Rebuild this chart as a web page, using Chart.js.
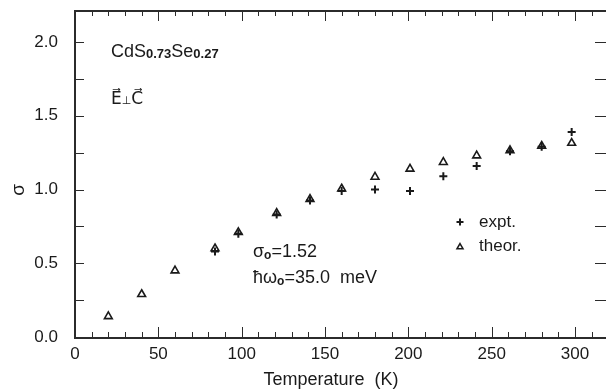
<!DOCTYPE html>
<html>
<head>
<meta charset="utf-8">
<script src="https://cdn.jsdelivr.net/npm/chart.js@4/dist/chart.umd.min.js"></script>
<style>
  html, body { margin: 0; padding: 0; background: #fff; }
  #wrap { width: 606px; height: 390px; position: relative; }
  canvas { display: block; }
</style>
</head>
<body>
<div id="wrap"><canvas id="c" width="606" height="390"></canvas></div>
<script>
// Measured conductivity ratio (expt.) and model curve (theor.) vs temperature
const exptT      = [84, 98, 121, 141, 160, 180, 201, 221, 241, 261, 280, 298];
const exptSigma  = [0.58, 0.70, 0.83, 0.925, 0.99, 1.00, 0.99, 1.09, 1.16, 1.26, 1.29, 1.39];
const theorT     = [20, 40, 60, 84, 98, 121, 141, 160, 180, 201, 221, 241, 261, 280, 298];
const theorSigma = [0.14, 0.29, 0.45, 0.60, 0.71, 0.84, 0.935, 1.005, 1.085, 1.14, 1.185, 1.23, 1.265, 1.295, 1.315];

// Axis ticks
const xTickLabels = [0, 50, 100, 150, 200, 250, 300];
const yTickLabels = [0.0, 0.5, 1.0, 1.5, 2.0];
const xMinorStep = 10;
const yMinorStep = 0.25;

const xTitle = 'Temperature  (K)';
const yTitle = 'σ';

const FONT = '"Liberation Sans", Arial, "DejaVu Sans", sans-serif';
const INK = '#1a1a1a';

const toPoints = (xs, ys) => xs.map((x, i) => ({ x: x, y: ys[i] }));

// Frame, inward ticks, annotations and key
const decor = {
  id: 'decor',
  afterDraw(chart) {
    const { ctx, chartArea: a, scales: { x, y } } = chart;
    ctx.save();
    ctx.fillStyle = '#2b2b2b';

    const L = Math.round(a.left), T = Math.round(a.top), B = Math.round(a.bottom), R = Math.round(a.right);

    // frame (left, top, bottom)
    ctx.fillRect(L, T, 2, B - T + 2);
    ctx.fillRect(L, T, R - L, 2);
    ctx.fillRect(L, B, R - L, 2);

    // x ticks on bottom and top
    for (let t = 0; t <= x.max; t += xMinorStep) {
      const px = Math.round(x.getPixelForValue(t));
      const len = (t % 50 === 0) ? 10 : 5;
      ctx.fillRect(px, B - len, 1, len);
      ctx.fillRect(px, T, 1, len + 1);
    }
    // y ticks on left and right
    for (let v = 0; v <= y.max + 1e-9; v += yMinorStep) {
      const py = Math.round(y.getPixelForValue(v));
      ctx.fillRect(L, py, 10, 1);
      ctx.fillRect(R - 11, py, 11, 1);
    }

    ctx.fillStyle = INK;
    ctx.textBaseline = 'alphabetic';
    ctx.textAlign = 'left';

    // writes a run of [text, size, weight, dy] pieces left to right
    const run = (x0, base, parts) => {
      let cx = x0;
      parts.forEach(([s, size, weight, dy]) => {
        ctx.font = (weight || 'normal') + ' ' + size + 'px ' + FONT;
        ctx.fillText(s, cx, base + (dy || 0));
        cx += ctx.measureText(s).width;
      });
      return cx;
    };

    run(111, 57, [['CdS', 18], ['0.73', 13, 'bold', 1], ['Se', 18], ['0.27', 13, 'bold', 1]]);
    run(111, 104, [['E\u20D7', 17], ['\u22A5', 11, 'normal', 0], ['C\u20D7', 17]]);

    run(253, 257, [['σ', 18], ['o', 12, 'bold', 2], ['=1.52', 18]]);
    run(253, 283, [['ħω', 18], ['o', 12, 'bold', 2], ['=35.0  meV', 18]]);

    // key
    const ds0 = chart.data.datasets[0], ds1 = chart.data.datasets[1];
    ctx.strokeStyle = INK;
    ctx.lineWidth = 2;
    Chart.helpers.drawPoint(ctx, { pointStyle: 'cross', radius: 3.5, borderWidth: 2 }, 460, 222);
    ctx.lineWidth = 1.5;
    ctx.fillStyle = 'rgba(255,255,255,0)';
    Chart.helpers.drawPoint(ctx, { pointStyle: 'triangle', radius: 3.5, borderWidth: 1.5 }, 460, 247);
    ctx.fillStyle = INK;
    ctx.font = '17px ' + FONT;
    ctx.fillText(ds0.label, 479, 227);
    ctx.fillText(ds1.label, 479, 251);

    // axis titles
    ctx.font = '18px ' + FONT;
    ctx.textAlign = 'center';
    ctx.textBaseline = 'middle';
    ctx.fillText(xTitle, 331, 380);
    ctx.save();
    ctx.translate(19, 190);
    ctx.rotate(-Math.PI / 2);
    ctx.font = '19px ' + FONT;
    ctx.fillText(yTitle, 0, 0);
    ctx.restore();

    ctx.restore();
  }
};

new Chart(document.getElementById('c'), {
  type: 'scatter',
  data: {
    datasets: [
      {
        label: 'expt.',
        data: toPoints(exptT, exptSigma),
        pointStyle: 'cross',
        pointRadius: 4,
        pointBorderWidth: 2,
        borderColor: INK,
        backgroundColor: INK
      },
      {
        label: 'theor.',
        data: toPoints(theorT, theorSigma),
        pointStyle: 'triangle',
        pointRadius: 4.5,
        pointBorderWidth: 1.6,
        borderColor: INK,
        backgroundColor: 'rgba(255,255,255,0)'
      }
    ]
  },
  options: {
    responsive: false,
    animation: false,
    devicePixelRatio: 1,
    layout: { autoPadding: false, padding: { top: 10, right: 0, left: 0, bottom: 0 } },
    plugins: {
      legend: { display: false },
      tooltip: { enabled: false }
    },
    scales: {
      x: {
        type: 'linear',
        min: -0.6,
        max: 318.6,
        grid: { display: false, drawTicks: false },
        border: { display: false },
        afterFit(s) { s.height = 53; s.paddingLeft = 0; s.paddingRight = 0; },
        afterBuildTicks(s) { s.ticks = xTickLabels.map(v => ({ value: v })); },
        ticks: {
          padding: 7,
          color: INK,
          font: { family: FONT, size: 17 },
          callback: v => String(v),
          maxRotation: 0,
          autoSkip: false
        }
      },
      y: {
        type: 'linear',
        min: 0,
        max: 2.217,
        grid: { display: false, drawTicks: false },
        border: { display: false },
        afterFit(s) { s.width = 74; s.paddingTop = 0; s.paddingBottom = 0; },
        afterBuildTicks(s) { s.ticks = yTickLabels.map(v => ({ value: v })); },
        ticks: {
          padding: 16,
          color: INK,
          font: { family: FONT, size: 17 },
          callback: v => Number(v).toFixed(1),
          autoSkip: false
        }
      }
    }
  },
  plugins: [decor]
});
</script>
</body>
</html>
